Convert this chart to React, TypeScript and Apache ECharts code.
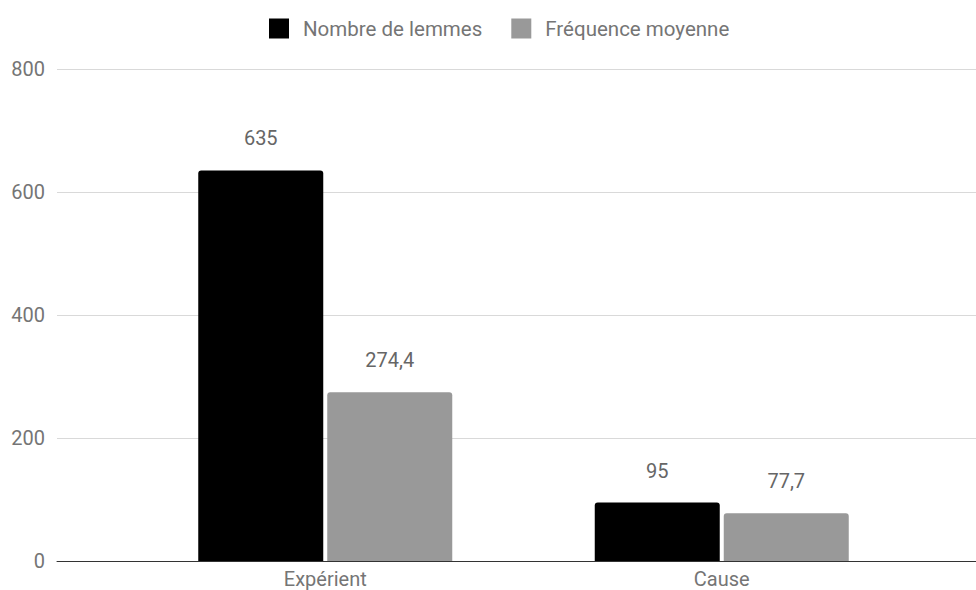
import React, { useEffect, useRef } from "react";
import * as echarts from "echarts";

const categories = ["Expérient", "Cause"];
const seriesNames = ["Nombre de lemmes", "Fréquence moyenne"];
const nombreDeLemmes = [635, 95];
const frequenceMoyenne = [274.4, 77.7];
const yTicks = [0, 200, 400, 600, 800];

const FONT = "Roboto, 'Noto Sans', sans-serif";
const fmt = (v: number) => String(v).replace(".", ",");

export default function App() {
  const ref = useRef<HTMLDivElement>(null);
  useEffect(() => {
    if (!ref.current) return;
    document.body.style.margin = "0";
    const chart = echarts.init(ref.current, undefined, { renderer: "svg" });
    const yMin = yTicks[0];
    const yMax = yTicks[yTicks.length - 1];
    const yInterval = yTicks[1] - yTicks[0];
    const labelStyle = {
      show: true,
      position: "top" as const,
      distance: 22,
      fontSize: 20,
      color: "#666666",
      fontFamily: FONT,
      formatter: (p: any) => fmt(p.value),
    };
    chart.setOption({
      animation: false,
      backgroundColor: "#ffffff",
      textStyle: { fontFamily: FONT },
      legend: {
        left: 269,
        top: 18,
        padding: 0,
        itemWidth: 20,
        itemHeight: 20,
        itemGap: 29,
        icon: "rect",
        textStyle: { fontSize: 20.5, color: "#757575", fontFamily: FONT, padding: [0, 0, 0, 9] },
        data: seriesNames,
      },
      grid: [
        { left: 57, right: 0, top: 69, bottom: 29 },
        { left: 127, right: 56, top: 69, bottom: 29 },
      ],
      xAxis: [
        {
          gridIndex: 0,
          type: "value",
          min: 0,
          max: 1,
          axisLine: { show: true, onZero: false, lineStyle: { color: "#333333", width: 1 } },
          axisTick: { show: false },
          axisLabel: { show: false },
          splitLine: { show: false },
        },
        {
          gridIndex: 1,
          type: "category",
          data: categories,
          axisLine: { show: false },
          axisTick: { show: false },
          axisLabel: { fontSize: 20, lineHeight: 18, color: "#757575", fontFamily: FONT, margin: 9 },
        },
      ],
      yAxis: [
        {
          gridIndex: 0,
          type: "value",
          min: yMin,
          max: yMax,
          interval: yInterval,
          axisLine: { show: false },
          axisTick: { show: false },
          axisLabel: { fontSize: 20, color: "#757575", fontFamily: FONT, margin: 12 },
          splitLine: { show: true, lineStyle: { color: "#d9d9d9", width: 1 } },
        },
        {
          gridIndex: 1,
          type: "value",
          min: yMin,
          max: yMax,
          interval: yInterval,
          show: false,
          splitLine: { show: false },
        },
      ],
      series: [
        {
          name: seriesNames[0],
          type: "bar",
          xAxisIndex: 1,
          yAxisIndex: 1,
          data: nombreDeLemmes,
          barWidth: 125,
          barGap: "3.2%",
          itemStyle: { color: "#000000", borderRadius: [3, 3, 0, 0] },
          label: labelStyle,
          z: 3,
        },
        {
          name: seriesNames[1],
          type: "bar",
          xAxisIndex: 1,
          yAxisIndex: 1,
          data: frequenceMoyenne,
          barWidth: 125,
          barGap: "3.2%",
          itemStyle: { color: "#999999", borderRadius: [3, 3, 0, 0] },
          label: labelStyle,
          z: 3,
        },
      ],
    });
    return () => chart.dispose();
  }, []);
  return (
    <div
      ref={ref}
      style={{ position: "fixed", left: 0, top: 0, width: 976, height: 590 }}
    />
  );
}
